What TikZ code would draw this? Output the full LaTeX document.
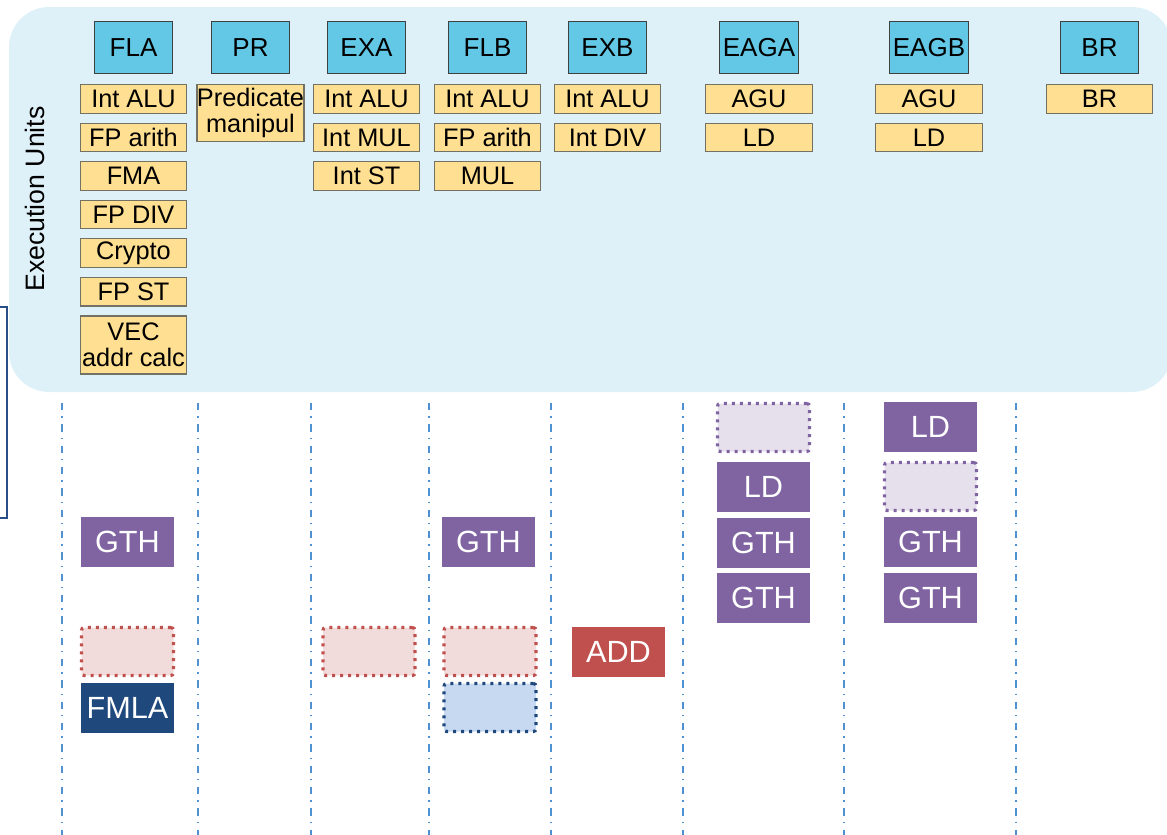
\documentclass[tikz,border=0pt]{standalone}
\usepackage{fontspec}
\setmainfont{Liberation Sans}
\usetikzlibrary{positioning}
\definecolor{panelblue}{RGB}{223,241,248}
\definecolor{portcyan}{RGB}{99,200,230}
\definecolor{unityellow}{RGB}{255,223,145}
\definecolor{unitborder}{RGB}{115,112,100}
\definecolor{lanecolor}{RGB}{80,145,210}
\definecolor{framecolor}{RGB}{40,78,135}
\definecolor{gthpurple}{RGB}{128,100,162}
\definecolor{palepurple}{RGB}{230,224,236}
\definecolor{addred}{RGB}{192,80,77}
\definecolor{palered}{RGB}{242,220,219}
\definecolor{fmlablue}{RGB}{31,73,125}
\definecolor{paleblue}{RGB}{198,217,241}

\begin{document}
\begin{tikzpicture}[
    x=0.75pt, y=-0.75pt,
    port/.style={draw=gray!50!black, fill=portcyan, line width=0.8pt,
                 minimum width=59pt, minimum height=39.5pt, inner sep=0pt,
                 font=\fontsize{19.5}{20}\selectfont},
    unit/.style={draw=unitborder, fill=unityellow, line width=0.8pt,
                 minimum width=80pt, minimum height=21.4pt, inner sep=0pt,
                 align=center, font=\fontsize{19}{19.5}\selectfont},
    uop/.style={fill=#1, text=white, minimum width=69.75pt, minimum height=37.5pt,
                inner sep=0pt, font=\fontsize{23}{24}\selectfont},
    slot/.style 2 args={draw=#1, fill=#2, line width=2.4pt, dash pattern=on 2.2pt off 3.8pt,
                        rounded corners=2pt, minimum width=69pt, minimum height=36pt, inner sep=0pt},
    lane/.style={draw=lanecolor, line width=1.5pt, dash pattern=on 5.5pt off 4.5pt on 1pt off 5pt}
  ]
    \useasboundingbox (0,0) rectangle (1167,835);

    % panel and frame
    \fill[panelblue, rounded corners=30pt] (9,7) rectangle (1172,392);
    \draw[framecolor, line width=1.6pt] (-20,307) -- (7,307) -- (7,518) -- (-20,518);
    \node[rotate=90, font=\fontsize{20}{20}\selectfont] (eulabel) at (35,199) {Execution Units};

    % ports
    \node[port] (fla) at (133.5,47.5) {FLA};
    \node[port] (pr) at (250.5,47.5) {PR};
    \node[port] (exa) at (366.5,47.5) {EXA};
    \node[port] (flb) at (487.5,47.5) {FLB};
    \node[port] (exb) at (607.5,47.5) {EXB};
    \node[port] (eaga) at (759,47.5) {EAGA};
    \node[port] (eagb) at (929,47.5) {EAGB};
    \node[port] (br) at (1099.5,47.5) {BR};

    % units
    \node[unit, below=7.4pt of fla] (fla1) {Int ALU};
    \node[unit, below=6.7pt of fla1] (fla2) {FP arith};
    \node[unit, below=6.7pt of fla2] (fla3) {FMA};
    \node[unit, below=6.7pt of fla3] (fla4) {FP DIV};
    \node[unit, below=6.7pt of fla4] (fla5) {Crypto};
    \node[unit, below=6.7pt of fla5] (fla6) {FP ST};
    \node[unit, below=6.7pt of fla6, minimum height=43.5pt] (fla7) {VEC\\addr calc};

    \node[unit, below=7.4pt of pr, minimum height=42.75pt] (pr1) {Predicate\\manipul};

    \node[unit, below=7.4pt of exa] (exa1) {Int ALU};
    \node[unit, below=6.7pt of exa1] (exa2) {Int MUL};
    \node[unit, below=6.7pt of exa2] (exa3) {Int ST};

    \node[unit, below=7.4pt of flb] (flb1) {Int ALU};
    \node[unit, below=6.7pt of flb1] (flb2) {FP arith};
    \node[unit, below=6.7pt of flb2] (flb3) {MUL};

    \node[unit, below=7.4pt of exb] (exb1) {Int ALU};
    \node[unit, below=6.7pt of exb1] (exb2) {Int DIV};

    \node[unit, below=7.4pt of eaga] (eaga1) {AGU};
    \node[unit, below=6.7pt of eaga1] (eaga2) {LD};

    \node[unit, below=7.4pt of eagb] (eagb1) {AGU};
    \node[unit, below=6.7pt of eagb1] (eagb2) {LD};

    \node[unit, below=7.4pt of br] (br1) {BR};

    % issue lanes
    \foreach \x in {62,198,311,429,551,683,844,1016}
      \draw[lane] (\x,403) -- (\x,835);

    % micro-ops
    \node[uop=gthpurple] (gtha) at (127.5,542) {GTH};
    \node[slot={addred}{palered}] (slota) at (127.5,651.5) {};
    \node[uop=fmlablue] (fmla) at (127.5,708) {FMLA};

    \node[slot={addred}{palered}] (slotb) at (369,651.5) {};

    \node[uop=gthpurple] (gthb) at (488.5,542) {GTH};
    \node[slot={addred}{palered}] (slotc) at (490,651.5) {};
    \node[slot={fmlablue}{paleblue}] (slotd) at (490,707.5) {};

    \node[uop=addred] (add) at (618.5,652) {ADD};

    \node[slot={gthpurple}{palepurple}] (slote) at (763.5,427.5) {};
    \node[uop=gthpurple] (lda) at (763.5,487) {LD};
    \node[uop=gthpurple, below=3.75pt of lda] (gthc) {GTH};
    \node[uop=gthpurple, below=3.75pt of gthc] (gthd) {GTH};

    \node[uop=gthpurple] (ldb) at (930.5,427) {LD};
    \node[slot={gthpurple}{palepurple}] (slotf) at (930.5,486.5) {};
    \node[uop=gthpurple] (gthe) at (930.5,542) {GTH};
    \node[uop=gthpurple, below=3.75pt of gthe] (gthf) {GTH};
  \end{tikzpicture}
\end{document}
